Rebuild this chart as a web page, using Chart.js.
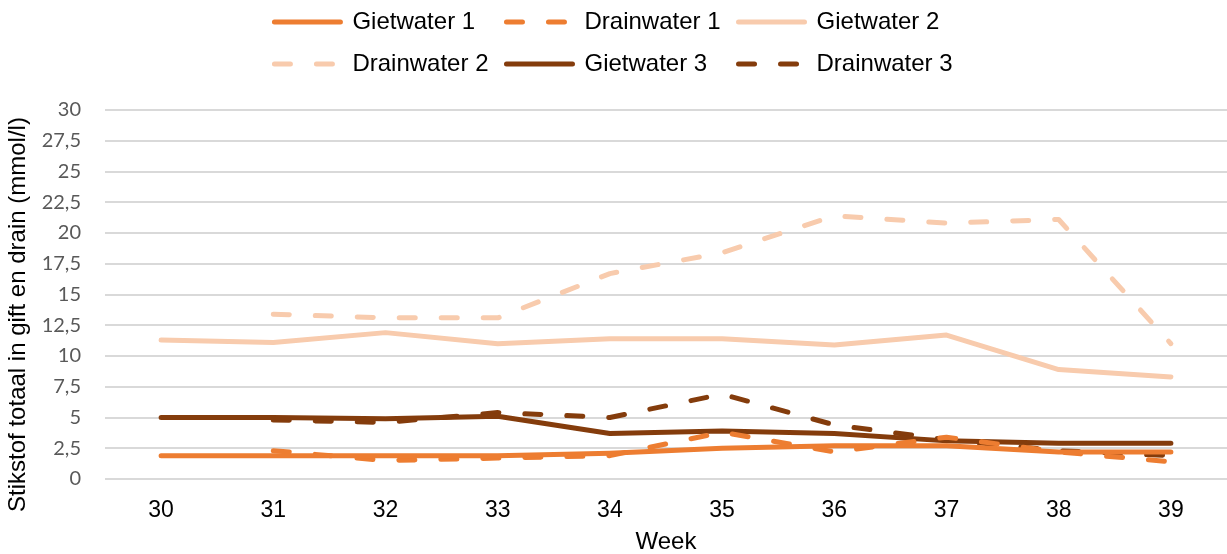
<!DOCTYPE html>
<html>
<head>
<meta charset="utf-8">
<script src="https://cdn.jsdelivr.net/npm/chart.js@4"></script>
<style>
  html, body { margin: 0; padding: 0; background: #fff; }
  #wrap { width: 1227px; height: 554px; }
</style>
</head>
<body>
<div id="wrap"><canvas id="chart" width="1227" height="554"></canvas></div>
<script>
// Weken
const weeks = ['30', '31', '32', '33', '34', '35', '36', '37', '38', '39'];
const yTicks = [0, 2.5, 5, 7.5, 10, 12.5, 15, 17.5, 20, 22.5, 25, 27.5, 30];

// Stikstof totaal (mmol/l)
const gietwater1 = [1.9, 1.9, 1.9, 1.9, 2.1, 2.5, 2.7, 2.7, 2.2, 2.2];
const drainwater1 = [null, 2.3, 1.5, 1.7, 1.9, 3.8, 2.2, 3.4, 2.2, 1.4];
const gietwater2 = [11.3, 11.1, 11.9, 11.0, 11.4, 11.4, 10.9, 11.7, 8.9, 8.3];
const drainwater2 = [null, 13.4, 13.1, 13.1, 16.7, 18.4, 21.4, 20.8, 21.1, 11.0];
const gietwater3 = [5.0, 5.0, 4.9, 5.1, 3.7, 3.9, 3.7, 3.1, 2.9, 2.9];
const drainwater3 = [null, 4.8, 4.6, 5.4, 5.0, 6.9, 4.4, 3.2, 2.3, 1.9];

const kleur1 = '#ED7D31';
const kleur2 = '#F8CBAD';
const kleur3 = '#843C0C';

const arial = 'Liberation Sans, Arial, sans-serif';

function lijn(label, data, kleur, gestreept) {
  return {
    label: label,
    data: data,
    borderColor: kleur,
    backgroundColor: kleur,
    borderWidth: 5,
    borderDash: gestreept ? [16, 26] : [],
    borderCapStyle: 'round',
    borderJoinStyle: 'round',
    pointRadius: 0,
    pointHoverRadius: 0,
    pointStyle: 'line',
    tension: 0,
    spanGaps: false
  };
}

// Legenda: drie items per regel, gecentreerd, vaste hoogte
const legendaPlugin = {
  id: 'legendaBreedte',
  afterInit(chart) {
    const lg = chart.legend;
    if (!lg) return;
    const origUpdate = lg.update;
    const origDraw = lg.draw;
    lg.update = function (w, h, m) {
      origUpdate.call(this, Math.min(w, 760), h, m);
      this.height = 118;
    };
    lg.draw = function (area) {
      const l = this.left, r = this.right;
      const c = (l + r) / 2;
      this.left = c - 380;
      this.right = c + 380;
      origDraw.call(this, area);
      this.left = l;
      this.right = r;
    };
  }
};

const ctx = document.getElementById('chart').getContext('2d');
new Chart(ctx, {
  type: 'line',
  data: {
    labels: weeks,
    datasets: [
      lijn('Gietwater 1', gietwater1, kleur1, false),
      lijn('Drainwater 1', drainwater1, kleur1, true),
      lijn('Gietwater 2', gietwater2, kleur2, false),
      lijn('Drainwater 2', drainwater2, kleur2, true),
      lijn('Gietwater 3', gietwater3, kleur3, false),
      lijn('Drainwater 3', drainwater3, kleur3, true)
    ]
  },
  options: {
    responsive: false,
    animation: false,
    layout: { padding: { top: -8, left: 0, right: 0, bottom: 0 } },
    plugins: {
      legend: {
        position: 'top',
        labels: {
          usePointStyle: true,
          pointStyleWidth: 66,
          padding: 18,
          color: '#000',
          font: { family: arial, size: 24 },
          generateLabels(chart) {
            const items = Chart.defaults.plugins.legend.labels.generateLabels(chart);
            items.forEach(it => {
              const ds = chart.data.datasets[it.datasetIndex];
              it.lineDash = ds.borderDash;
              it.lineCap = 'round';
              it.lineWidth = ds.borderWidth;
              // kolommen gelijk trekken
              if (ds.label.startsWith('Gietwater')) it.text = ds.label + '  ';
            });
            return items;
          }
        }
      },
      tooltip: { enabled: false }
    },
    scales: {
      x: {
        offset: true,
        grid: { display: false, drawTicks: false },
        border: { display: false },
        ticks: {
          color: '#000',
          padding: 18,
          font: { family: arial, size: 23 }
        },
        title: {
          display: true,
          text: 'Week',
          color: '#000',
          padding: { top: 0, bottom: 0 },
          font: { family: arial, size: 24, lineHeight: 1 }
        },
        afterFit(scale) { scale.height = 75; }
      },
      y: {
        min: 0,
        max: 30,
        afterBuildTicks(scale) {
          scale.ticks = yTicks.map(v => ({ value: v }));
        },
        grid: { color: '#D9D9D9', lineWidth: 2, drawTicks: false },
        border: { display: false },
        ticks: {
          color: '#595959',
          padding: 24,
          font: { family: 'Lato, Open Sans, sans-serif', size: 20 },
          callback: v => String(v).replace('.', ',')
        },
        title: {
          display: true,
          text: 'Stikstof totaal in gift en drain (mmol/l)      ',
          color: '#000',
          padding: { top: 4, bottom: 0 },
          font: { family: arial, size: 24 }
        },
        afterFit(scale) { scale.width = 105; }
      }
    }
  },
  plugins: [legendaPlugin]
});
</script>
</body>
</html>
